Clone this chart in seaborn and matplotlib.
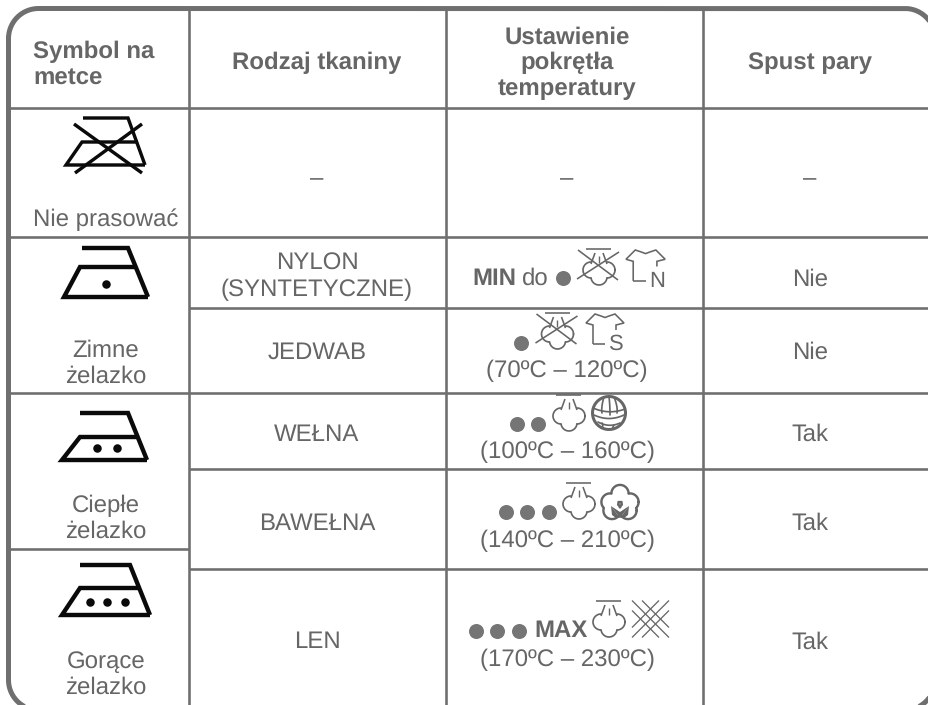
import numpy as np
import pandas as pd
import matplotlib
matplotlib.use("Agg")
import matplotlib.pyplot as plt
from matplotlib.patches import Polygon
import seaborn as sns

# ---------- content ----------
headers = ["Symbol na\nmetce", "Rodzaj tkaniny", "Ustawienie\npokrętła\ntemperatury", "Spust pary"]
symbol_labels = ["Nie prasować", "Zimne\nżelazko", "Ciepłe\nżelazko", "Gorące\nżelazko"]
fabrics = ["–", "NYLON\n(SYNTETYCZNE)", "JEDWAB", "WEŁNA", "BAWEŁNA", "LEN"]
temp_ranges = ["–", None, "(70ºC – 120ºC)", "(100ºC – 160ºC)", "(140ºC – 210ºC)", "(170ºC – 230ºC)"]
steam = ["–", "Nie", "Nie", "Tak", "Tak", "Tak"]
iron_dot_counts = [1, 2, 3]
dial_dot_counts = [1, 1, 2, 3, 3]

# ---------- layout (pixels of the 929x705 canvas) ----------
INK, RULE, DOT, BLACK = "#666666", "#6f6f6f", "#757575", "#0a0a0a"
FS = 17.2
FONT = ["Liberation Sans", "DejaVu Sans"]
px = 0.72  # one pixel in points at dpi 100

sns.set_theme(style="white")
plt.rcParams["font.family"] = FONT
plt.rcParams["text.hinting"] = "no_hinting"
plt.rcParams["text.hinting_factor"] = 1
fig = plt.figure(figsize=(9.29, 7.05), dpi=100, facecolor="white")
ax = fig.add_axes([0, 0, 1, 1])

# table rules
rule_x0 = [10, 10, 189, 10, 189, 10, 189, 189, 446, 703]
rule_x1 = [929, 929, 929, 929, 929, 189, 929, 189, 446, 703]
rule_y0 = [108, 237, 308, 393, 469, 549, 569, 10, 10, 10]
rule_y1 = [108, 237, 308, 393, 469, 549, 569, 705, 705, 705]
rules = pd.DataFrame({
    "x": rule_x0 + rule_x1, "y": rule_y0 + rule_y1,
    "id": list(range(len(rule_x0))) * 2,
})
sns.lineplot(data=rules, x="x", y="y", units="id", estimator=None, sort=False,
             color=RULE, linewidth=2.6 * px, legend=False, ax=ax,
             solid_capstyle="butt")

# rounded outer frame, partly beyond the canvas
L, T, Rt, B, rad = 8.5, 8.5, 935, 710, 30
def corner(cx, cy, a0, a1):
    a = np.radians(np.linspace(a0, a1, 40))
    return np.c_[cx + rad * np.cos(a), cy + rad * np.sin(a)]
frame = np.vstack([corner(L + rad, T + rad, 180, 270), corner(Rt - rad, T + rad, 270, 360),
                   corner(Rt - rad, B - rad, 0, 90), corner(L + rad, B - rad, 90, 180)])
frame = np.vstack([frame, frame[:1]])
ax.plot(frame[:, 0], frame[:, 1], color=RULE, lw=5 * px, zorder=4)


def txt(x, y, s, weight="normal", ha="center", size=FS, color=INK):
    ax.text(x, y + 8.5, s, ha=ha, va="baseline", fontsize=size, fontweight=weight,
            color=color, family=FONT)


def stacked(x, y0, s, step=26, weight="normal", ha="center"):
    for i, line in enumerate(s.split("\n")):
        txt(x, y0 + i * step, line, weight=weight, ha=ha)


def poly(pts, lw=2, color=INK, z=3):
    a = np.array(pts, dtype=float)
    ax.plot(a[:, 0], a[:, 1], color=color, lw=lw * px, zorder=z,
            solid_capstyle="butt", solid_joinstyle="miter")


def iron(x0, xm, xt, xr, xmr, xb, yt, ym, yb, lw=4.4):
    poly([(xt, yt), (xr, yt), (xb, yb)], lw, BLACK)
    poly([(xb, yb), (x0, yb), (xm, ym), (xmr, ym)], lw, BLACK)


def lobes(centers, r, lw=1.8, mask=None, color=INK):
    """outline of a union of circles"""
    t = np.linspace(0, 2 * np.pi, 240)
    for i, (cx, cy) in enumerate(centers):
        x = cx + r * np.cos(t)
        y = cy + r * np.sin(t)
        keep = np.ones_like(t, bool)
        for j, (ox, oy) in enumerate(centers):
            if j != i:
                keep &= np.hypot(x - ox, y - oy) > r
        if mask is not None:
            keep &= ~mask(x, y)
        x[~keep] = np.nan
        ax.plot(x, y, color=color, lw=lw * px, zorder=3)


def steam_icon(cx, ty, crossed=None):
    poly([(cx - 12.5, ty), (cx + 12.5, ty)], 1.6)
    poly([(cx - 8, ty + 15), (cx - 4, ty + 4)], 1.6)
    poly([(cx + 8, ty + 15), (cx + 4, ty + 4)], 1.6)
    poly([(cx, ty + 7), (cx, ty + 14)], 1.4)
    lobes([(cx - 8, ty + 21), (cx + 8, ty + 21), (cx, ty + 28)], 8, 1.7,
          mask=lambda x, y: (np.abs(x - cx) < 8) & (y < ty + 20))
    if crossed:
        poly([(cx - 21, ty + 1), (cx + 19, ty + 31)], 1.6)
        poly([(cx + 20, ty + 3), (cx - 22, ty + 30)], 1.6)


def shirt(x, y, letter, k=1.0):
    P = lambda pts: [(x + a * k, y + b * k) for a, b in pts]
    poly(P([(7, 30), (7, 11), (0, 9), (9, 0), (15, 2), (19, 3.5), (23, 2), (29, 0),
            (38, 9), (30, 11), (30, 16)]), 1.6)
    poly(P([(7, 30), (19, 30)]), 1.6)
    ax.text(x + 30 * k, y + 36 * k, letter, ha="center", va="baseline", fontsize=15.5,
            color=INK, family=FONT)


# header row
stacked(33, 49.5, headers[0], weight="bold", ha="left")
txt(317, 60.5, headers[1], weight="bold")
stacked(567, 35, headers[2], weight="bold")
txt(810, 61, headers[3], weight="bold")

# first column
txt(106, 218, symbol_labels[0])
stacked(106, 348, symbol_labels[1])
stacked(106, 503.5, symbol_labels[2], step=25.5)
stacked(106, 659.5, symbol_labels[3])

# fabric, temperature text, steam columns
fabric_y = [177, 261.5, 350, 432.5, 521.5, 640]
steam_y = [177, 277, 350, 432.5, 521.5, 640]
range_y = [177, None, 369, 450, 539, 658]
for i in range(6):
    stacked(317, fabric_y[i], fabrics[i])
    txt(810, steam_y[i], steam[i])
    if temp_ranges[i]:
        txt(567, range_y[i], temp_ranges[i])
txt(472, 276.5, "MIN", weight="bold", ha="left")
txt(522, 276.5, "do", ha="left")
txt(534, 628.5, "MAX", weight="bold", ha="left")

# temperature dots
dial_x0 = [563, 521, 517, 506, 476]
dial_y = [278, 343, 424, 512, 631]
rows = [(dial_x0[r] + 21.5 * k, dial_y[r]) for r, n in enumerate(dial_dot_counts) for k in range(n)]
dial = pd.DataFrame(rows, columns=["x", "y"])
sns.scatterplot(data=dial, x="x", y="y", s=(15 * px) ** 2, color=DOT, linewidth=0,
                legend=False, ax=ax, zorder=3)

# iron symbols
poly([(83, 118), (128, 118), (145, 165)], 3.4, BLACK)
poly([(145, 165), (66, 165), (82, 142), (138, 142)], 3.4, BLACK)
poly([(74, 124), (142, 173)], 3.4, BLACK)
poly([(142, 124), (75, 173)], 3.4, BLACK)
iron(64, 80, 82, 128, 137, 148, 248, 267, 297)
iron(62, 80, 80, 128, 138, 147, 413, 437, 460)
iron(62, 80, 80, 130, 138, 150, 565, 588, 615)
iron_x = [106, 97, 117, 90, 107, 125]
iron_y = [284, 448, 448, 602, 602, 602]
sns.scatterplot(x=iron_x, y=iron_y, s=(8.5 * px) ** 2, color=BLACK, linewidth=0,
                legend=False, ax=ax, zorder=3)

# care icons
steam_icon(599, 249, crossed=True)
steam_icon(557.5, 313, crossed=True)
steam_icon(569, 395)
steam_icon(579, 483)
steam_icon(609, 601)
shirt(626, 250, "N", 1.03)
shirt(586, 314, "S", 1.0)

# yarn ball
cx, cy, R = 609, 413, 16.5
t = np.linspace(0, 2 * np.pi, 200)
ax.plot(cx + R * np.cos(t), cy + R * np.sin(t), color=INK, lw=3 * px, zorder=3)
for a, b, c, d, e, f in [(-16, -5, 0, 2, 16, -4), (-15, 2, 0, 9, 15, 2), (-11, 9, 0, 15, 11, 10),
                         (-5, -16, -8, -6, -7, 0), (5, -16, 9, -6, 8, 0), (0, -16, 1, -8, 1, 2),
                         (-7, 10, -5, 13, -8, 15), (5, 12, 4, 14, 3, 16)]:
    u = np.linspace(0, 1, 30)
    ax.plot(cx + (1 - u) ** 2 * a + 2 * u * (1 - u) * c + u ** 2 * e,
            cy + (1 - u) ** 2 * b + 2 * u * (1 - u) * d + u ** 2 * f,
            color=INK, lw=1.7 * px, zorder=3)

# cotton boll
bx, by = 620, 503
lobes([(bx, by - 9.5), (bx - 10, by - 1), (bx + 10, by - 1), (bx - 8, by + 7.5), (bx + 8, by + 7.5)],
      8.6, 2.4)
ax.add_patch(Polygon([(bx, by + 15), (bx - 9, by + 3), (bx - 8, by + 12), (bx - 4, by + 15)],
                     fc=INK, ec="none", zorder=3))
ax.add_patch(Polygon([(bx, by + 15), (bx + 9, by + 3), (bx + 8, by + 12), (bx + 4, by + 15)],
                     fc=INK, ec="none", zorder=3))
ax.add_patch(Polygon([(bx - 9, by + 3), (bx, by + 9), (bx + 9, by + 3), (bx, by + 15)],
                     fc=INK, ec="none", zorder=3))

# linen cross-hatch
hx, hy = 650.5, 619
for off in (-5, 0, 5):
    hl = 18.5 - abs(off)
    poly([(hx + off - hl, hy - off - hl), (hx + off + hl, hy - off + hl)], 1.3)
    poly([(hx + off + hl, hy + off - hl), (hx + off - hl, hy + off + hl)], 1.3)

ax.set_xlim(0, 929)
ax.set_ylim(705, 0)
ax.axis("off")
fig.savefig("out.png", dpi=100, facecolor="white")
